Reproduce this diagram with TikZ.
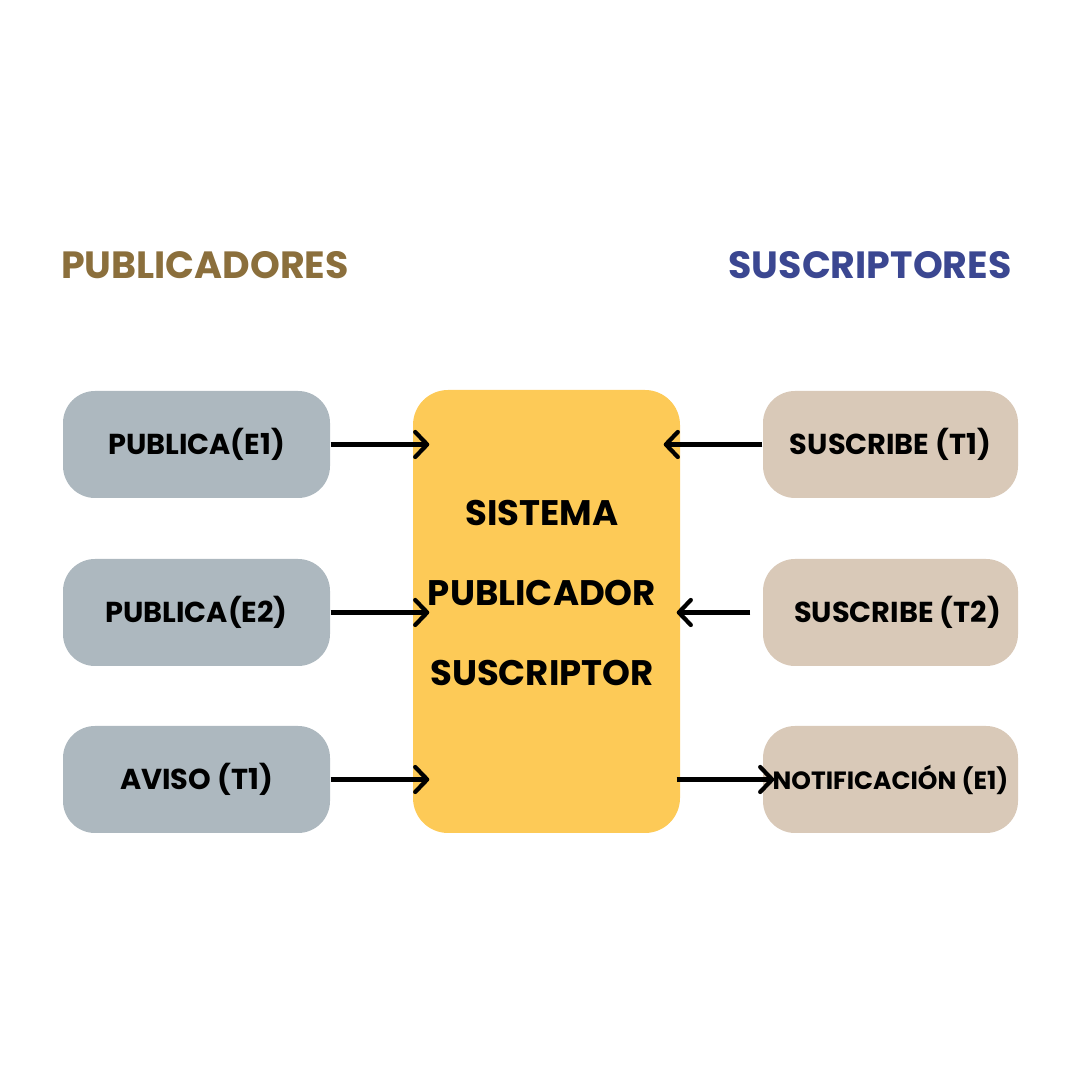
\documentclass[tikz,border=0pt]{standalone}
\usepackage{fontspec}
\setmainfont{Poppins}
\usetikzlibrary{arrows.meta}
\definecolor{pubgray}{RGB}{173,184,191}
\definecolor{susbeige}{RGB}{217,201,184}
\definecolor{sysyellow}{RGB}{253,202,87}
\definecolor{pubbrown}{RGB}{139,111,60}
\definecolor{susblue}{RGB}{59,71,145}

\begin{document}
\begin{tikzpicture}[
  caja/.style={rounded corners=0.32cm, minimum height=1.07cm, inner sep=0pt,
    font=\bfseries\fontsize{8.2}{10}\selectfont},
  flecha/.style={line width=1.2pt, -{Straight Barb[length=1.2mm,width=2.5mm,round]}}
]
\useasboundingbox (0,0) rectangle (10.8,10.8);

% Titles
\node[text=pubbrown, font=\bfseries\fontsize{10.8}{13}\selectfont] (tpub) at (2.05,8.15) {PUBLICADORES};
\node[text=susblue, font=\bfseries\fontsize{10.8}{13}\selectfont] (tsus) at (8.70,8.15) {SUSCRIPTORES};

% Central system
\node[fill=sysyellow, rounded corners=0.35cm, minimum width=2.67cm, minimum height=4.43cm] (sis) at (5.465,4.685) {};
\node[align=center, font=\bfseries\fontsize{10.1}{22.7}\selectfont] (sistxt) at (5.42,4.87)
  {SISTEMA\\PUBLICADOR\\SUSCRIPTOR};

% Publishers
\foreach \name/\y/\txt in {pub1/6.355/PUBLICA(E1), pub2/4.675/PUBLICA(E2), pub3/3.005/AVISO (T1)} {
  \node[caja, fill=pubgray, minimum width=2.67cm] (\name) at (1.965,\y) {\txt};
}

% Subscribers
\node[caja, fill=susbeige, minimum width=2.55cm] (sus1) at (8.905,6.355) {SUSCRIBE (T1)};
\node[caja, fill=susbeige, minimum width=2.55cm] (sus2) at (8.905,4.675) {\hspace*{0.14cm}SUSCRIBE (T2)};
\node[caja, fill=susbeige, minimum width=2.55cm, font=\bfseries\fontsize{7.1}{9}\selectfont] (sus3) at (8.905,3.005) {NOTIFICACIÓN (E1)};

% Add connecting arrows
\foreach \n in {pub1,pub2,pub3} {
  \draw[flecha, shorten >=-0.17cm] (\n.east) -- (\n.east -| sis.west);
}
\draw[flecha, shorten >=-0.17cm] (sus1.west) -- (sus1.west -| sis.east);
\draw[flecha, shorten <=0.12cm, shorten >=-0.04cm] (sus2.west) -- (sus2.west -| sis.east);
\draw[flecha, shorten <=-0.04cm, shorten >=-0.12cm] (sus3.west -| sis.east) -- (sus3.west);
\end{tikzpicture}
\end{document}
